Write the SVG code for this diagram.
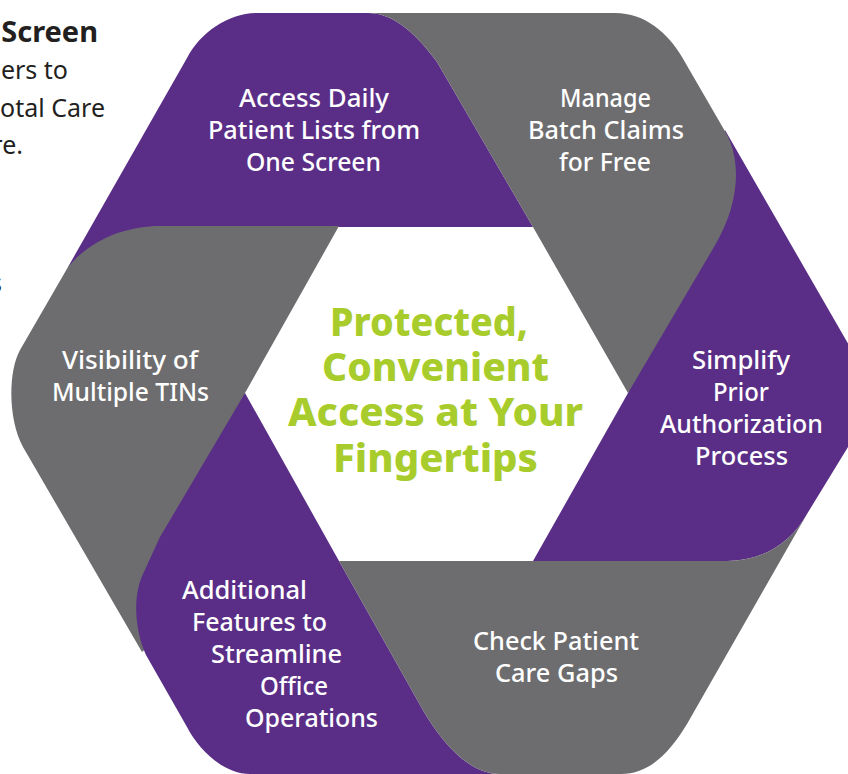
<svg xmlns="http://www.w3.org/2000/svg" width="848" height="774" viewBox="0 0 848 774">
<style>
.p{fill:#5a2e87}.g{fill:#6d6d6f}
text{font-family:"Noto Sans","Liberation Sans",sans-serif}
.l{font-size:24.500px;font-weight:500;fill:#fff;text-anchor:middle}
.t{font-size:40px;font-weight:800;fill:#a9cc2d;text-anchor:middle}
.s{font-size:25px;fill:#231f20;text-anchor:end}
.b{font-size:29px;font-weight:700;fill:#231f20;text-anchor:end}
</style>
<rect width="848" height="774" fill="#fff"/>
<g id="side-text">
<text class="b" x="98" y="42">Screen</text>
<text class="s" x="68" y="79">ers to</text>
<text class="s" x="105" y="117">otal Care</text>
<text class="s" x="23" y="154">re.</text>
<text class="s" x="2" y="292">s</text>
</g>
<g id="segment-access">
<path class="p" d="M68 267L187 58C200 33 228 13 257 13H368C390 13 412 28 437 62L533 227H339L150 240Z"/>
<text class="l" x="314" y="107" textLength="150" lengthAdjust="spacingAndGlyphs">Access Daily</text>
<text class="l" x="314" y="139" textLength="212" lengthAdjust="spacingAndGlyphs">Patient Lists from</text>
<text class="l" x="313.500" y="171" textLength="135" lengthAdjust="spacingAndGlyphs">One Screen</text>
</g>
<g id="segment-prior">
<path class="p" d="M725 130L850 347C860 370 860 420 848 447L807 514C790 545 760 561 727 561H533L628 393L700 200Z"/>
<text class="l" x="741" y="369" textLength="98" lengthAdjust="spacingAndGlyphs">Simplify</text>
<text class="l" x="741" y="401" textLength="56" lengthAdjust="spacingAndGlyphs">Prior</text>
<text class="l" x="741.500" y="433" textLength="163" lengthAdjust="spacingAndGlyphs">Authorization</text>
<text class="l" x="741.500" y="465" textLength="93" lengthAdjust="spacingAndGlyphs">Process</text>
</g>
<g id="segment-visibility">
<path class="g" d="M339 226H160C128 226 92 238 68 267L20 350C8 372 8 420 23 447L142 652L200 600L245 393Z"/>
<text class="l" x="130" y="369" textLength="136" lengthAdjust="spacingAndGlyphs">Visibility of</text>
<text class="l" x="130.500" y="401" textLength="157" lengthAdjust="spacingAndGlyphs">Multiple TINs</text>
</g>
<g id="segment-features">
<path class="p" d="M245 393L339 561L424 712C438 735 465 774 500 774H250C225 774 200 752 187 727L146 655C134 628 133 595 143 574L160 537Z"/>
<text class="l" x="244.500" y="599" textLength="125" lengthAdjust="spacingAndGlyphs">Additional</text>
<text class="l" x="259.500" y="631" textLength="135" lengthAdjust="spacingAndGlyphs">Features to</text>
<text class="l" x="276.500" y="663" textLength="131" lengthAdjust="spacingAndGlyphs">Streamline</text>
<text class="l" x="294" y="695" textLength="68" lengthAdjust="spacingAndGlyphs">Office</text>
<text class="l" x="311.500" y="727" textLength="133" lengthAdjust="spacingAndGlyphs">Operations</text>
</g>
<g id="segment-manage">
<path class="g" d="M368 13H615C645 13 668 33 682 57L726 133C740 158 742 200 714 247L628 393L533 227L437 62C412 28 390 13 368 13Z"/>
<text class="l" x="605.500" y="107" textLength="91" lengthAdjust="spacingAndGlyphs">Manage</text>
<text class="l" x="606" y="139" textLength="156" lengthAdjust="spacingAndGlyphs">Batch Claims</text>
<text class="l" x="605" y="171" textLength="92" lengthAdjust="spacingAndGlyphs">for Free</text>
</g>
<g id="segment-check">
<path class="g" d="M339 561H727C760 561 790 545 807 514L687 724C670 752 650 774 621 774H500C465 774 438 735 424 712Z"/>
<text class="l" x="556" y="650" textLength="166" lengthAdjust="spacingAndGlyphs">Check Patient</text>
<text class="l" x="556.500" y="682" textLength="123" lengthAdjust="spacingAndGlyphs">Care Gaps</text>
</g>
<g id="center">
<text class="t" x="429" y="336" textLength="198" lengthAdjust="spacingAndGlyphs">Protected,</text>
<text class="t" x="435.500" y="381" textLength="227" lengthAdjust="spacingAndGlyphs">Convenient</text>
<text class="t" x="435.500" y="426" textLength="295" lengthAdjust="spacingAndGlyphs">Access at Your</text>
<text class="t" x="435.500" y="472" textLength="205" lengthAdjust="spacingAndGlyphs">Fingertips</text>
</g>
</svg>
